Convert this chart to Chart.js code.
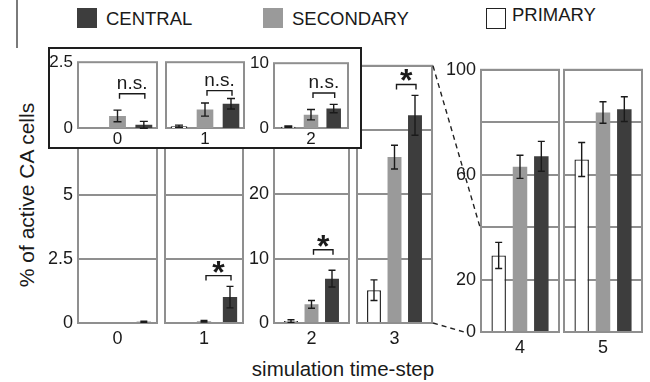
<!DOCTYPE html>
<html><head><meta charset="utf-8">
<script src="https://cdn.jsdelivr.net/npm/chart.js@4/dist/chart.umd.min.js"></script>
<style>
html,body{margin:0;padding:0;background:#fff;width:650px;height:382px;overflow:hidden;position:relative;font-family:"Liberation Sans",Arial,sans-serif;color:#1a1a1a}
canvas{position:absolute}
.abs{position:absolute;white-space:nowrap;line-height:1}
</style></head><body>
<div class="abs" style="left:16px;top:0;width:2px;height:48px;background:#7a7a7a"></div>
<div class="abs" style="left:77px;top:8px;width:20px;height:20px;background:#3d3d3d"></div>
<div class="abs" style="left:106px;top:10px;font-size:18.5px">CENTRAL</div>
<div class="abs" style="left:263px;top:8px;width:20px;height:20px;background:#9a9a9a"></div>
<div class="abs" style="left:292px;top:10px;font-size:18.5px">SECONDARY</div>
<div class="abs" style="left:486px;top:8px;width:20px;height:21px;box-sizing:border-box;border:1.5px solid #222;background:#fff"></div>
<div class="abs" style="left:512px;top:6px;font-size:18.5px">PRIMARY</div>
<div class="abs" style="left:26px;top:195px;font-size:21px;transform:translate(-50%,-50%) rotate(-90deg)">% of active CA cells</div>
<div class="abs" style="left:343px;top:359px;font-size:20.5px;transform:translateX(-50%)">simulation time-step</div>
<div id="inset" class="abs" style="left:48px;top:47px;width:314px;height:102px;box-sizing:border-box;border:2px solid #1e1e1e;background:#fff;z-index:5"></div>
<script>
// ---- data ----
const steps = ['0','1','2','3','4','5'];
const primaryPct   = [0, 0, 0.3, 5.1, 29.2, 65.8];
const primaryErr   = [0, 0, 0.2, 1.6, 5.0, 6.5];
const secondaryPct = [0, 0.07, 2.9, 25.8, 63.0, 83.7];
const secondaryErr = [0, 0.03, 0.6, 1.85, 4.4, 4.1];
const centralPct   = [0.05, 1.01, 6.9, 32.3, 67.0, 85.0];
const centralErr   = [0.02, 0.42, 1.3, 3.1, 5.7, 4.7];
const mainMax  = [10, 10, 40, 40, 100, 100];
const mainStep = [2.5, 2.5, 10, 10, 20, 20];
const mainTickLabels = [['0','2.5','5'], [], ['0','10','20'], [], ['0','20','60','100'], []];
const mainSigLabels = [null, '*', '*', '*', null, null];
const mainSigLevels = [null, 1.85, 11.4, 37.1, null, null];

const insetSteps = ['0','1','2'];
const insetPrimary   = [0, 0.07, 0.2];
const insetPrimaryErr= [0, 0.04, 0.1];
const insetSecondary = [0.46, 0.7, 2.05];
const insetSecondaryErr = [0.22, 0.25, 0.8];
const insetCentral   = [0.12, 0.92, 3.0];
const insetCentralErr= [0.13, 0.2, 0.65];
const insetMax = [2.5, 2.5, 10];
const insetStep = [2.5, 2.5, 10];
const insetTickLabels = [['0','2.5'], [], ['0','10']];
const insetSigLabels = ['n.s.', 'n.s.', 'n.s.'];
const insetSigLevels = [1.3, 1.42, 5.4];

// ---- layout (plot areas in page pixels) ----
const mainAreas = [
  {l:78,r:157,t:65,b:323},{l:165,r:243,t:65,b:323},
  {l:274,r:349,t:64,b:323},{l:357,r:432,t:64,b:323},
  {l:481,r:559,t:68,b:332},{l:564,r:642,t:68,b:332}];
const insetAreas = [{l:78,r:157,t:61,b:128},{l:166,r:244,t:61,b:128},{l:274,r:348,t:62,b:128}];

const FONT = '"Liberation Sans", Arial, sans-serif';
const GRID = '#8f8f8f';
const INK = '#1a1a1a';

const frame = {id:'frame', beforeDatasetsDraw(chart){
  const a=chart.chartArea, ctx=chart.ctx; ctx.save();
  ctx.strokeStyle=GRID; ctx.lineWidth=2;
  ctx.strokeRect(a.left, a.top, a.right-a.left, a.bottom-a.top); ctx.restore();}};

const errorBars = {id:'errorBars', afterDatasetsDraw(chart,args,opts){
  const ctx=chart.ctx, y=chart.scales.y; ctx.save();
  ctx.strokeStyle=INK; ctx.lineWidth=1.4;
  chart.data.datasets.forEach((ds,i)=>{
    const meta=chart.getDatasetMeta(i);
    meta.data.forEach((el,j)=>{
      const v=ds.data[j], e=ds.errors?ds.errors[j]:0;
      if(v==null||!e) return;
      const x=el.x, y1=y.getPixelForValue(v+e), y2=y.getPixelForValue(v-e), c=opts.cap||3.5;
      ctx.beginPath();
      ctx.moveTo(x,y1); ctx.lineTo(x,y2);
      ctx.moveTo(x-c,y1); ctx.lineTo(x+c,y1);
      ctx.moveTo(x-c,y2); ctx.lineTo(x+c,y2);
      ctx.stroke();
    });
  });
  ctx.restore();}};

const sig = {id:'sig', afterDatasetsDraw(chart,args,opts){
  if(!opts || !opts.label) return;
  const ctx=chart.ctx, y=chart.scales.y;
  const x1=chart.getDatasetMeta(1).data[0].x+2, x2=chart.getDatasetMeta(2).data[0].x+1;
  const yy=y.getPixelForValue(opts.level);
  ctx.save(); ctx.strokeStyle=INK; ctx.lineWidth=1.4;
  ctx.beginPath(); ctx.moveTo(x1,yy+5); ctx.lineTo(x1,yy); ctx.lineTo(x2,yy); ctx.lineTo(x2,yy+5); ctx.stroke();
  ctx.fillStyle=INK; ctx.textAlign='center'; ctx.textBaseline='alphabetic';
  if(opts.label==='*'){ ctx.font='bold 32px '+FONT; ctx.fillText('*',(x1+x2)/2,yy+7); }
  else { ctx.font='19px '+FONT; ctx.fillText(opts.label,(x1+x2)/2,yy-5); }
  ctx.restore();}};

function makePanel(area, cfg){
  const yw=44, padT=14, padR=6, xh=cfg.xh;
  const c=document.createElement('canvas');
  const W=area.r-area.l+yw+padR, H=area.b-area.t+padT+xh;
  c.width=W; c.height=H;
  c.style.left=(area.l-yw)+'px'; c.style.top=(area.t-padT)+'px';
  c.style.width=W+'px'; c.style.height=H+'px'; c.style.zIndex=cfg.z;
  document.body.appendChild(c);
  return new Chart(c,{type:'bar',
    data:{labels:[cfg.label],datasets:[
      {label:'PRIMARY',data:[cfg.p],errors:[cfg.pe],backgroundColor:'#ffffff',borderColor:'#222',borderWidth:1.4},
      {label:'SECONDARY',data:[cfg.s],errors:[cfg.se],backgroundColor:'#9a9a9a',borderWidth:0},
      {label:'CENTRAL',data:[cfg.c],errors:[cfg.ce],backgroundColor:'#3d3d3d',borderWidth:0}]},
    options:{responsive:false,animation:false,devicePixelRatio:1,
      layout:{padding:{top:padT,right:padR,left:0,bottom:0}},
      datasets:{bar:{categoryPercentage:cfg.cat,barPercentage:cfg.bar}},
      plugins:{legend:{display:false},tooltip:{enabled:false},
        sig:{label:cfg.sigLabel,level:cfg.sigLevel},errorBars:{cap:cfg.cap}},
      scales:{
        x:{grid:{display:false,drawTicks:false,tickLength:0},border:{display:false},
          ticks:{font:{family:FONT,size:cfg.fs},color:INK,padding:cfg.xpad},
          afterFit(s){s.height=xh;}},
        y:{min:0,max:cfg.max,grid:{display:cfg.grid,color:GRID,lineWidth:2,drawTicks:false,tickLength:0},border:{display:false},
          ticks:{stepSize:cfg.step,autoSkip:false,padding:5,font:{family:FONT,size:cfg.fs},color:INK,
            callback(v){const s=String(Math.round(v*100)/100);return cfg.ticks.includes(s)?s:'';}},
          afterFit(s){s.width=yw;}}}},
    plugins:[frame,errorBars,sig]});
}

const mainCharts = steps.map((st,i)=>makePanel(mainAreas[i],{
  label:st,p:primaryPct[i],pe:primaryErr[i],s:secondaryPct[i],se:secondaryErr[i],c:centralPct[i],ce:centralErr[i],
  max:mainMax[i],step:mainStep[i],ticks:mainTickLabels[i],sigLabel:mainSigLabels[i],sigLevel:mainSigLevels[i],
  xh:40,xpad:5,fs:18,cat:i<2?1.0:0.82,bar:i<2?0.55:0.68,grid:true,cap:3.5,z:1}));

const insetCharts = insetSteps.map((st,i)=>makePanel(insetAreas[i],{
  label:st,p:insetPrimary[i],pe:insetPrimaryErr[i],s:insetSecondary[i],se:insetSecondaryErr[i],c:insetCentral[i],ce:insetCentralErr[i],
  max:insetMax[i],step:insetStep[i],ticks:insetTickLabels[i],sigLabel:insetSigLabels[i],sigLevel:insetSigLevels[i],
  xh:19,xpad:1,fs:17,cat:i===2?0.92:1.0,bar:0.64,grid:false,cap:4,z:6}));

// zoom connector lines between panel 3 and panel 4
(function(){
  const ov=document.createElement('canvas'); ov.width=650; ov.height=382;
  ov.style.left='0px'; ov.style.top='0px'; ov.style.zIndex=7; document.body.appendChild(ov);
  const ctx=ov.getContext('2d');
  const c3=mainCharts[3], c4=mainCharts[4];
  const o3={x:c3.canvas.offsetLeft,y:c3.canvas.offsetTop}, o4={x:c4.canvas.offsetLeft,y:c4.canvas.offsetTop};
  const xr=o3.x+c3.chartArea.right, yt=o3.y+c3.chartArea.top, yb=o3.y+c3.chartArea.bottom;
  const xl=o4.x+c4.chartArea.left;
  ctx.strokeStyle='#222'; ctx.lineWidth=1.4; ctx.setLineDash([5,4]);
  ctx.beginPath(); ctx.moveTo(xr+1,yt); ctx.lineTo(xl-1,o4.y+c4.scales.y.getPixelForValue(40)); ctx.stroke();
  ctx.beginPath(); ctx.moveTo(xr+1,yb); ctx.lineTo(xl-17,o4.y+c4.scales.y.getPixelForValue(0)); ctx.stroke();
})();
</script>
</body></html>
